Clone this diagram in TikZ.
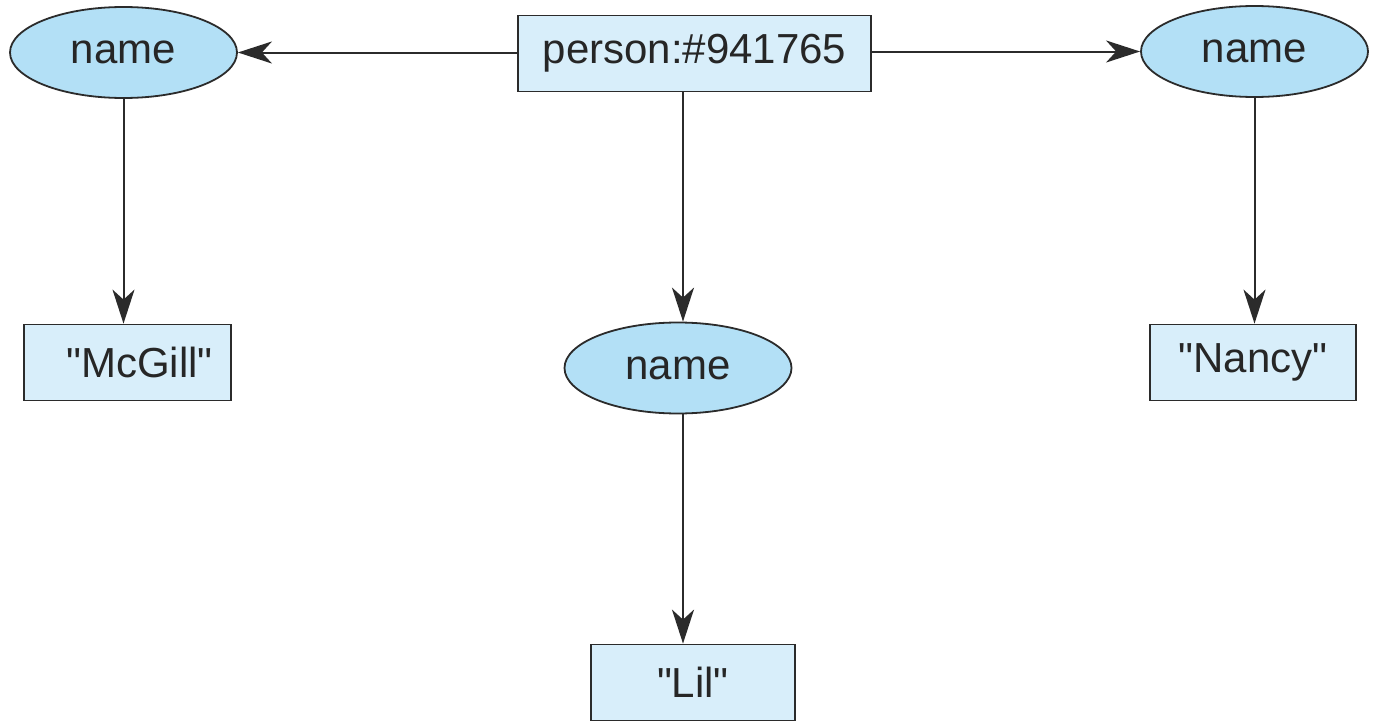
\documentclass[tikz,border=0pt]{standalone}
\usepackage{fontspec}
\setmainfont{Liberation Sans}[Ligatures=TeXOff]
\usetikzlibrary{shapes.geometric,arrows.meta}
\definecolor{ellfill}{HTML}{B3E0F6}
\definecolor{boxfill}{HTML}{D8EEFA}
\definecolor{linec}{HTML}{2B2B2B}
\definecolor{textc}{HTML}{262626}
\tikzset{
  attr/.style={ellipse, draw=linec, fill=ellfill, line width=0.9pt, inner sep=0pt,
    minimum width=113.5pt, minimum height=45.5pt, text=textc,
    font=\fontsize{21}{25}\selectfont},
  valbox/.style={rectangle, draw=linec, fill=boxfill, line width=0.9pt, inner sep=0pt,
    minimum height=38pt, text=textc, font=\fontsize{21}{25}\selectfont},
  arr/.style={draw=linec, line width=1pt, -{Stealth[length=17pt,width=11pt,inset=5pt]}}
}
\begin{document}
\begin{tikzpicture}[x={(0.5pt,0)}, y={(0,-0.5pt)}]
\useasboundingbox (0,0) rectangle (1373,728);
\fill[white] (0,0) rectangle (1373,728);
\node[valbox, minimum width=176.5pt] (person) at (694.5,53.5) {person:\#941765};
\node[attr] (nleft) at (123.5,52.5) {name};
\node[attr] (nright) at (1254.5,51.5) {name};
\node[attr] (nmid) at (678,368) {name};
\node[valbox, minimum width=103.5pt, text width=103.5pt, align=center] (mcgill) at (127.5,362.5) {\hspace*{12pt}"McGill"};
\node[valbox, minimum width=103pt] (nancy) at (1253,362.5) {"Nancy"};
\node[valbox, minimum width=102pt] (lil) at (693,682.5) {"Lil"};
\draw[arr] (person.west |- nleft.east) -- (nleft.east);
\draw[arr] (person.east |- nright.west) -- (nright.west);
\draw[arr] ([xshift=-5.75pt]person.south) -- ([xshift=2.5pt]nmid.north);
\draw[arr] ([xshift=2.5pt]nmid.south) -- ([xshift=-5pt]lil.north);
\draw[arr] (nleft.south) -- (nleft.south |- mcgill.north);
\draw[arr] (nright.south) -- (nright.south |- nancy.north);
\end{tikzpicture}
\end{document}
